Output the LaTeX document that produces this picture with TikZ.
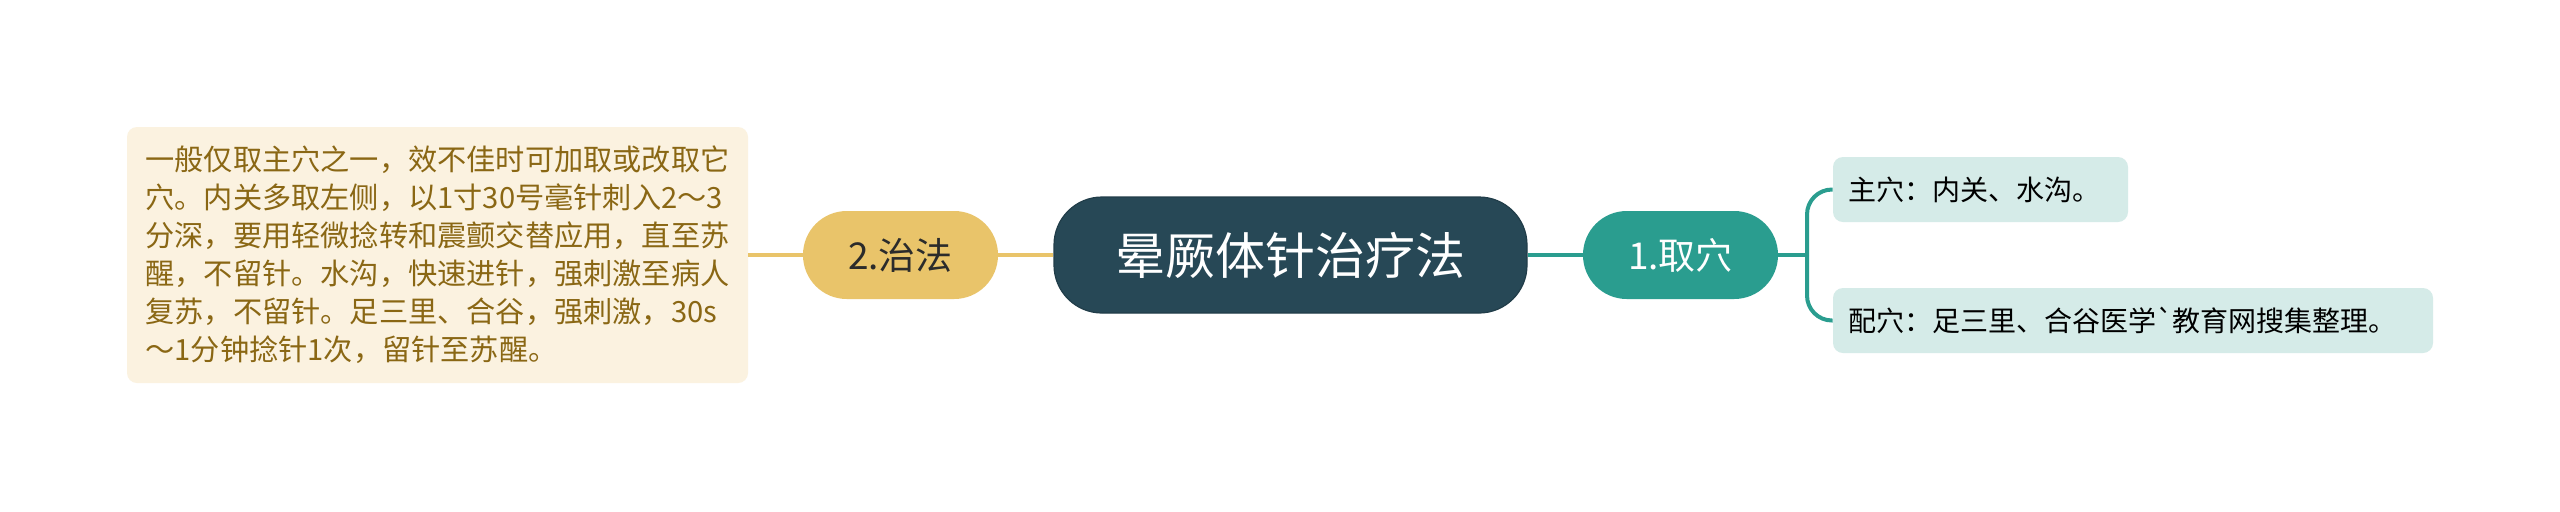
\documentclass[tikz,border=0pt]{standalone}
\usepackage{fontspec}
\newfontfamily\cjk{Noto Sans CJK SC}
\definecolor{rootc}{HTML}{274856}
\definecolor{tealc}{HTML}{2A9D8F}
\definecolor{yelc}{HTML}{E9C46A}
\definecolor{creamc}{HTML}{FBF2E0}
\definecolor{browntxt}{HTML}{8A6714}
\definecolor{lteal}{HTML}{D5EBE8}
\definecolor{dtxt}{HTML}{2B2B2B}
\begin{document}
\begin{tikzpicture}[x=0.5pt,y=-0.5pt,
  rootbox/.style={fill=rootc, draw=rootc!85!black, line width=0.6pt, rounded corners=24pt,
    minimum width=236.5pt, minimum height=58pt, inner sep=0pt, text=white,
    font=\cjk\fontsize{25}{30}\selectfont},
  subbox/.style={rounded corners=21.9pt, minimum width=97.5pt, minimum height=44pt, inner sep=0pt,
    font=\cjk\fontsize{18.5}{22}\selectfont},
  notebox/.style={fill=creamc, rounded corners=5pt, minimum width=310.5pt, minimum height=128pt,
    inner sep=0pt, align=left, text=browntxt, font=\cjk\fontsize{14.6}{19}\selectfont},
  leafbox/.style={fill=lteal, rounded corners=5pt, minimum height=32.5pt, inner xsep=7.5pt, inner ysep=0pt,
    align=left, text=black, font=\cjk\fontsize{14}{18}\selectfont},
  yconn/.style={draw=yelc, line width=2pt},
  tconn/.style={draw=tealc, line width=2pt}
]
\fill[white] (0,0) rectangle (2560,511);
\useasboundingbox (0,0) rectangle (2560,511);

\node[rootbox] (root) at (1290.5,255) {晕厥体针治疗法};
\node[subbox, fill=yelc, text=dtxt] (zf) at (900.5,255) {2.治法};
\node[subbox, fill=tealc, text=white] (qx) at (1680.5,255) {1.取穴};
\node[notebox] (note) at (437.5,255) {一般仅取主穴之一，效不佳时可加取或改取它\\
穴。内关多取左侧，以1寸30号毫针刺入2～3\\
分深，要用轻微捻转和震颤交替应用，直至苏\\
醒，不留针。水沟，快速进针，强刺激至病人\\
复苏，不留针。足三里、合谷，强刺激，30s\\
～1分钟捻针1次，留针至苏醒。};
\node[leafbox, text width=132.5pt] (zhu) at (1980.5,189.5) {主穴：内关、水沟。};
\node[leafbox, text width=285pt] (pei) at (2133,320.5) {配穴：足三里、合谷医学`教育网搜集整理。};

\coordinate (br) at (1807,255);
\draw[yconn] (root.west) -- (zf.east);
\draw[yconn] (zf.west) -- (note.east);
\draw[tconn] (root.east) -- (qx.west);
\draw[tconn] (qx.east) -- (br);
\draw[tconn, rounded corners=12.5pt] (br) |- (zhu.west);
\draw[tconn, rounded corners=12.5pt] (br) |- (pei.west);
\end{tikzpicture}
\end{document}
